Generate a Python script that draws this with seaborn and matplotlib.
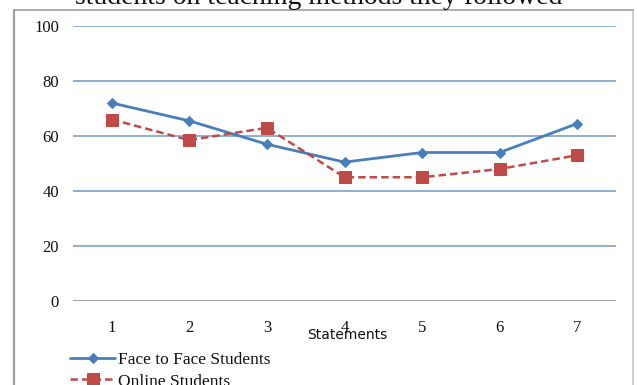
import matplotlib
matplotlib.use("Agg")
import matplotlib.pyplot as plt
import seaborn as sns
import pandas as pd

statements = [1, 2, 3, 4, 5, 6, 7]
face_to_face = [72, 65.5, 57, 50.5, 54, 54, 64.5]
online = [66, 58.5, 63, 45, 45, 48, 53]
y_ticks = [0, 20, 40, 60, 80, 100]

sns.set_theme(style="white")
plt.rcParams["font.family"] = ["Liberation Serif", "DejaVu Serif"]

W, H = 637, 385
fig = plt.figure(figsize=(W / 100, H / 100), dpi=100)
fig.patch.set_facecolor("white")

# chart frame
fig.add_artist(plt.Line2D([14 / W, 14 / W], [0, 1 - 9.5 / H], transform=fig.transFigure,
                          color="#a0a0a0", lw=1.6))
fig.add_artist(plt.Line2D([633 / W, 633 / W], [0, 1 - 9.5 / H], transform=fig.transFigure,
                          color="#c8c8c8", lw=1.2))
fig.add_artist(plt.Line2D([14 / W, 633 / W], [1 - 9.5 / H, 1 - 9.5 / H], transform=fig.transFigure,
                          color="#a0a0a0", lw=1.2))

fig.text(0.5, 1 - 4 / H, "students on teaching methods they followed", ha="center",
         va="baseline", fontsize=20, color="#111111")

ax = fig.add_axes([73 / W, 1 - 301 / H, (616 - 73) / W, (301 - 26) / H])
ax.set_facecolor("none")
for s in ax.spines.values():
    s.set_visible(False)

for t in y_ticks:
    ax.axhline(t, color="#888888" if t == 0 else "#6f98c8", lw=1.1, zorder=0)

df = pd.DataFrame({"Statement": statements, "Face": face_to_face, "Online": online})
sns.lineplot(data=df, x="Statement", y="Face", ax=ax, color="#4a7ebb", lw=2.0,
             marker="D", markersize=5.5, markeredgecolor="#4a7ebb",
             label="Face to Face Students")
sns.lineplot(data=df, x="Statement", y="Online", ax=ax, color="#be4b48", lw=1.8,
             linestyle=(0, (3, 1.6)), marker="s", markersize=8, markeredgecolor="#be4b48",
             label="Online Students")

ax.set_xlim(0.5, 7.5)
ax.set_ylim(0, 100)
ax.set_xticks(statements)
ax.set_xticklabels([str(s) for s in statements])
ax.set_yticks(y_ticks)
ax.tick_params(axis="x", length=0, pad=13.5, labelsize=12, colors="#111111")
ax.tick_params(axis="y", length=0, pad=10, labelsize=12, colors="#111111")
ax.set_xlabel("")
ax.set_ylabel("")

fig.text(347 / W, 1 - 335 / H, "Statements", ha="center", va="center",
         fontsize=10, family=["DejaVu Sans"], color="#111111")

leg = ax.legend(loc="upper left", bbox_to_anchor=(70 / W, 1 - 352 / H),
                bbox_transform=fig.transFigure, frameon=False, fontsize=12.5,
                handlelength=2.6, handletextpad=0.15, labelspacing=0.3,
                borderaxespad=0, borderpad=0)
for txt in leg.get_texts():
    txt.set_color("#111111")

fig.savefig("out.png", dpi=100, facecolor="white")
